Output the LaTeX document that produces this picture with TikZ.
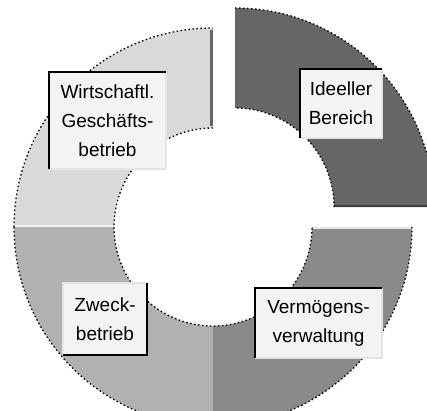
\documentclass[tikz,border=0pt]{standalone}
\usepackage{fontspec}
\setmainfont{Liberation Sans}
\definecolor{segTL}{HTML}{D9D9D9}
\definecolor{segTR}{HTML}{666666}
\definecolor{segBR}{HTML}{8A8A8A}
\definecolor{segBL}{HTML}{B1B1B1}
\definecolor{boxfill}{HTML}{F3F3F3}
\definecolor{boxlight}{HTML}{E4E4E4}
\tikzset{
  outline/.style={draw=black, line width=1.3pt, dash pattern=on 1.5pt off 2.5pt},
  label/.style={fill=boxfill, inner sep=0pt, align=center, font=\fontsize{19}{29}\selectfont},
  darkedge/.style={draw=black, line width=2pt},
  lightedge/.style={draw=boxlight, line width=2pt}
}
\begin{document}
\begin{tikzpicture}[x=1pt,y=1pt]
\useasboundingbox (0,0) rectangle (427,410);
\clip (0,0) rectangle (427,410);
\fill[white] (0,0) rectangle (427,410);
% unexploded segments
\begin{scope}[shift={(213,183)}]
  \fill[segTL] (180:199) arc[start angle=180,end angle=90,radius=199] -- (90:99) arc[start angle=90,end angle=180,radius=99] -- cycle;
  \fill[segBL] (270:199) arc[start angle=270,end angle=180,radius=199] -- (180:99) arc[start angle=180,end angle=270,radius=99] -- cycle;
  \fill[segBR] (0:199) arc[start angle=0,end angle=-90,radius=199] -- (-90:99) arc[start angle=-90,end angle=0,radius=99] -- cycle;
  % edge shading
  \draw[segTR, line width=3pt] (-1.5,101) -- (-1.5,197);
  \draw[white!85!segBL, line width=2pt] (-198,1) -- (-100,1);
  \draw[white!80!segBR, line width=2pt] (100,-1) -- (198,-1);
  % outlines on arcs
  \draw[outline] (180:199) arc[start angle=180,end angle=90,radius=199];
  \draw[outline] (180:199) arc[start angle=180,end angle=360,radius=199];
  \draw[outline] (90:99) arc[start angle=90,end angle=360,radius=99];
\end{scope}
% exploded segment
\begin{scope}[shift={(235,203)}]
  \fill[segTR] (90:199) arc[start angle=90,end angle=0,radius=199] -- (0:99) arc[start angle=0,end angle=90,radius=99] -- cycle;
  \draw[black!75, line width=2pt] (99,1) -- (198,1);
  \draw[outline] (90:199) arc[start angle=90,end angle=0,radius=199];
  \draw[outline] (0:99) arc[start angle=0,end angle=90,radius=99];
\end{scope}
% labels
\node[label, minimum width=82pt, minimum height=69pt] (ib) at (341,306.5) {Ideeller\\Bereich};
\node[label, minimum width=127pt, minimum height=70pt] (vv) at (318.5,87) {Vermögens-\\verwaltung};
\node[label, minimum width=84pt, minimum height=72pt] (zb) at (105,91) {Zweck-\\betrieb};
\node[label, minimum width=117pt, minimum height=97pt] (wg) at (107.5,289.5) {Wirtschaftl.\\Geschäfts-\\betrieb};
% sunken borders
\foreach \n in {ib,vv,wg}{
  \draw[lightedge] (\n.north east) -- (\n.south east) -- (\n.south west);
  \draw[darkedge] (\n.south west) -- (\n.north west) -- (\n.north east);
}
% raised border
\draw[lightedge] (zb.south west) -- (zb.north west) -- (zb.north east);
\draw[darkedge] (zb.north east) -- (zb.south east) -- (zb.south west);
\end{tikzpicture}
\end{document}
